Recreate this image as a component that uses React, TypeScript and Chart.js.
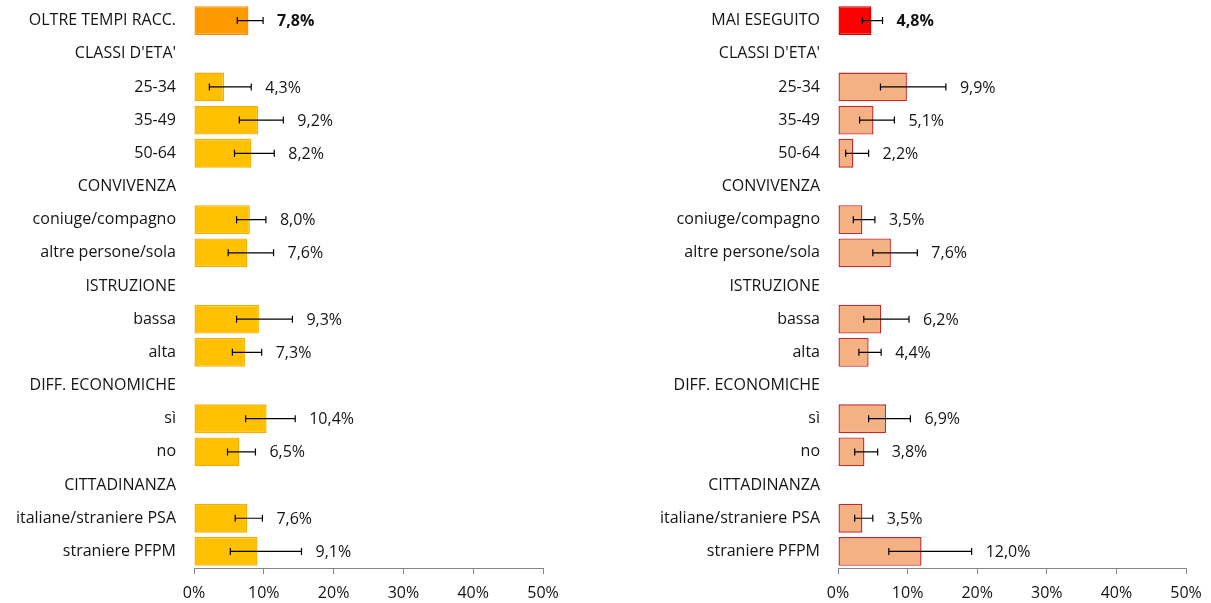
import React, { useEffect, useRef } from "react";
import { Chart, registerables } from "chart.js";

Chart.register(...registerables);

const leftCategories = ["OLTRE TEMPI RACC.", "CLASSI D'ETA'", "25-34", "35-49", "50-64", "CONVIVENZA", "coniuge/compagno", "altre persone/sola", "ISTRUZIONE", "bassa", "alta", "DIFF. ECONOMICHE", "sì", "no", "CITTADINANZA", "italiane/straniere PSA", "straniere PFPM"];
const rightCategories = ["MAI ESEGUITO", "CLASSI D'ETA'", "25-34", "35-49", "50-64", "CONVIVENZA", "coniuge/compagno", "altre persone/sola", "ISTRUZIONE", "bassa", "alta", "DIFF. ECONOMICHE", "sì", "no", "CITTADINANZA", "italiane/straniere PSA", "straniere PFPM"];

const leftValues = [7.8, null, 4.3, 9.2, 8.2, null, 8.0, 7.6, null, 9.3, 7.3, null, 10.4, 6.5, null, 7.6, 9.1];
const leftLow = [6.2, null, 2.2, 6.5, 5.8, null, 6.1, 4.9, null, 6.1, 5.5, null, 7.4, 4.8, null, 5.9, 5.2];
const leftHigh = [9.9, null, 8.2, 12.8, 11.5, null, 10.3, 11.4, null, 14.1, 9.7, null, 14.5, 8.8, null, 9.8, 15.4];

const rightValues = [4.8, null, 9.9, 5.1, 2.2, null, 3.5, 7.6, null, 6.2, 4.4, null, 6.9, 3.8, null, 3.5, 12.0];
const rightLow = [3.5, null, 6.1, 3.1, 1.1, null, 2.2, 5.0, null, 3.7, 3.0, null, 4.4, 2.4, null, 2.4, 7.3];
const rightHigh = [6.4, null, 15.5, 8.1, 4.4, null, 5.3, 11.4, null, 10.2, 6.2, null, 10.4, 5.7, null, 5.0, 19.2];

const xTicks = [0, 10, 20, 30, 40, 50];

const FONT = "'Open Sans'";
const FSIZE = 16;
const TEXT = "#141414";

type Panel = {
  categories: string[];
  values: (number | null)[];
  low: (number | null)[];
  high: (number | null)[];
  mainColor: string;
  mainBorder: string;
  color: string;
  border: string;
  axisWidth: number;
  rightPad: number;
};

function makeChart(canvas: HTMLCanvasElement, p: Panel) {
  const errPlugin = {
    id: "errbars",
    afterDatasetsDraw(chart: any) {
      const ctx = chart.ctx;
      const xs = chart.scales.x;
      const meta = chart.getDatasetMeta(0);
      ctx.save();
      p.values.forEach((v, i) => {
        if (v === null) return;
        const lo = p.low[i] as number;
        const hi = p.high[i] as number;
        const y = meta.data[i].y;
        const x1 = xs.getPixelForValue(lo);
        const x2 = xs.getPixelForValue(hi);
        ctx.strokeStyle = "#000";
        ctx.lineWidth = 1.2;
        ctx.beginPath();
        ctx.moveTo(x1, y);
        ctx.lineTo(x2, y);
        ctx.moveTo(x1, y - 3.5);
        ctx.lineTo(x1, y + 3.5);
        ctx.moveTo(x2, y - 3.5);
        ctx.lineTo(x2, y + 3.5);
        ctx.stroke();
        ctx.fillStyle = TEXT;
        ctx.font = (i === 0 ? "bold " : "") + FSIZE + "px " + FONT;
        ctx.textAlign = "left";
        ctx.textBaseline = "middle";
        ctx.fillText(v.toFixed(1).replace(".", ",") + "%", x2 + 14, y + 1);
      });
      ctx.restore();
    },
  };

  return new Chart(canvas, {
    type: "bar",
    data: {
      labels: p.categories,
      datasets: [
        {
          data: p.values as any,
          backgroundColor: p.values.map((_, i) => (i === 0 ? p.mainColor : p.color)),
          borderColor: p.values.map((_, i) => (i === 0 ? p.mainBorder : p.border)),
          borderWidth: 1.4,
          borderSkipped: false,
          categoryPercentage: 1,
          barPercentage: 0.87,
        },
      ],
    },
    options: {
      indexAxis: "y",
      animation: false,
      responsive: false,
      layout: { padding: { top: 4, right: p.rightPad, bottom: 0, left: 0 } },
      plugins: { legend: { display: false }, tooltip: { enabled: false } },
      scales: {
        x: {
          type: "linear",
          min: 0,
          max: 50,
          afterBuildTicks: (scale: any) => {
            scale.ticks = xTicks.map((v) => ({ value: v }));
          },
          afterFit: (scale: any) => {
            scale.height = 35;
            scale.paddingLeft = 0;
            scale.paddingRight = 0;
          },
          ticks: {
            callback: (v: any) => v + "%",
            color: TEXT,
            font: { family: FONT, size: FSIZE },
            padding: 10,
            maxRotation: 0,
          },
          grid: { drawOnChartArea: false, drawTicks: true, tickLength: 6, color: "#868686" },
          border: { display: true, color: "#868686", width: 1 },
        },
        y: {
          afterFit: (scale: any) => {
            scale.width = p.axisWidth;
            scale.paddingTop = 0;
            scale.paddingBottom = 0;
          },
          ticks: {
            color: TEXT,
            font: { family: FONT, size: FSIZE },
            padding: 18,
            autoSkip: false,
          },
          grid: { display: false, drawTicks: false },
          border: { display: false },
        },
      },
    },
    plugins: [errPlugin],
  });
}

function ChartPanel({ panel, left }: { panel: Panel; left: number }) {
  const ref = useRef<HTMLCanvasElement>(null);
  useEffect(() => {
    const c = makeChart(ref.current!, panel);
    return () => c.destroy();
  }, []);
  return (
    <canvas
      ref={ref}
      width={605}
      height={603}
      style={{ position: "absolute", left, top: 0, width: 605, height: 603 }}
    />
  );
}

export default function App() {
  const leftPanel: Panel = {
    categories: leftCategories,
    values: leftValues,
    low: leftLow,
    high: leftHigh,
    mainColor: "#FF9900",
    mainBorder: "#F29100",
    color: "#FFC000",
    border: "#F5AE00",
    axisWidth: 194,
    rightPad: 62,
  };
  const rightPanel: Panel = {
    categories: rightCategories,
    values: rightValues,
    low: rightLow,
    high: rightHigh,
    mainColor: "#FF0000",
    mainBorder: "#D00000",
    color: "#F4B183",
    border: "#C8282A",
    axisWidth: 232,
    rightPad: 25,
  };
  return (
    <div style={{ position: "fixed", left: 0, top: 0, width: 1211, height: 603, background: "#fff" }}>
      <ChartPanel panel={leftPanel} left={0} />
      <ChartPanel panel={rightPanel} left={606} />
    </div>
  );
}
